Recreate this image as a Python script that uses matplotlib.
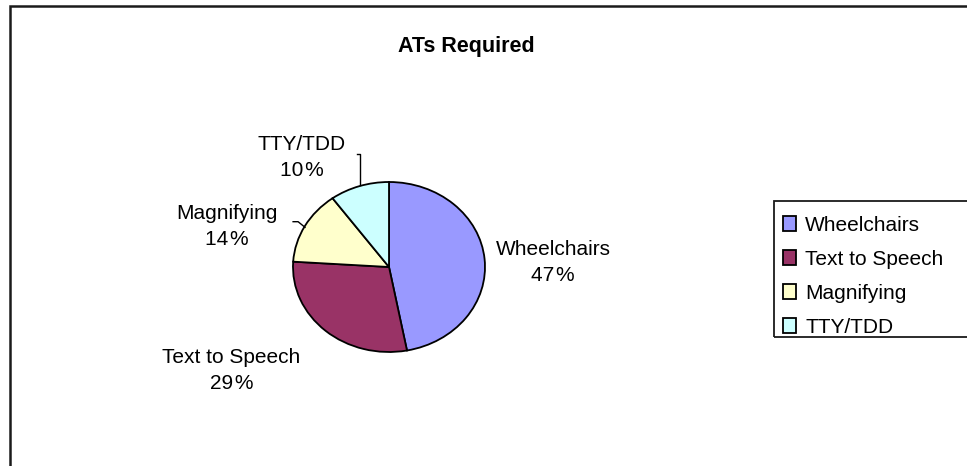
import matplotlib
matplotlib.use('Agg')
import matplotlib.pyplot as plt
from matplotlib.patches import Rectangle

plt.rcParams['font.family'] = ['Liberation Sans', 'DejaVu Sans']

# data
labels = ['Wheelchairs', 'Text to Speech', 'Magnifying', 'TTY/TDD']
values = [47, 29, 14, 10]
colors = ['#9999FF', '#993366', '#FFFFCC', '#CCFFFF']

# where each data label sits, relative to pie centre (pie radius = 1)
label_pos = [(1.71, 0.05), (-1.64, -1.22), (-1.69, 0.48), (-0.91, 1.29)]

fig = plt.figure(figsize=(9.67, 4.66), dpi=100)
W, H = 967, 466

# outer chart border (runs off right and bottom edge)
fig.add_artist(Rectangle((9.5/W, -0.1), 1.2, 1.1 - 6.5/H, transform=fig.transFigure,
                         fill=False, lw=1.8, ec='#1a1a1a'))

fig.text(466/W, 1 - 52/H, 'ATs Required', ha='center', va='baseline',
         fontsize=15.5, fontweight='bold')

# pie is a bit wider than tall, like in the original
cx, cy, rx, ry = 389, 267, 96, 85
ax = fig.add_axes([(cx - rx)/W, 1 - (cy + ry)/H, 2*rx/W, 2*ry/H])
wedges, _ = ax.pie(values, colors=colors, startangle=90, counterclock=False,
                   wedgeprops=dict(edgecolor='black', linewidth=1.3))
ax.set_aspect('auto')
ax.set_xlim(-1, 1)
ax.set_ylim(-1, 1)
ax.axis('off')

for name, v, (x, y) in zip(labels, values, label_pos):
    ax.text(x, y, f'{name}\n{v}\u200a%', ha='center', va='center', fontsize=15,
            multialignment='center', linespacing=1.45, clip_on=False)

# leader lines
ax.plot([-0.30, -0.30, -0.33], [0.965, 1.33, 1.33], color='black', lw=1, clip_on=False)
ax.plot([-0.999, -0.947, -0.875], [0.533, 0.533, 0.467], color='black', lw=1, clip_on=False)

# legend box, also runs off the right edge
fig.add_artist(Rectangle((774/W, 1 - 337/H), 0.3, 136/H, transform=fig.transFigure,
                         fill=False, lw=1.3, ec='#1a1a1a'))
fig.legend(wedges, labels, loc='upper left', bbox_to_anchor=(783/W, 1 - 216/H),
           frameon=False, fontsize=15, borderpad=0, borderaxespad=0,
           handlelength=0.62, handletextpad=0.45, labelspacing=0.72)

fig.savefig('out.png', dpi=100)
